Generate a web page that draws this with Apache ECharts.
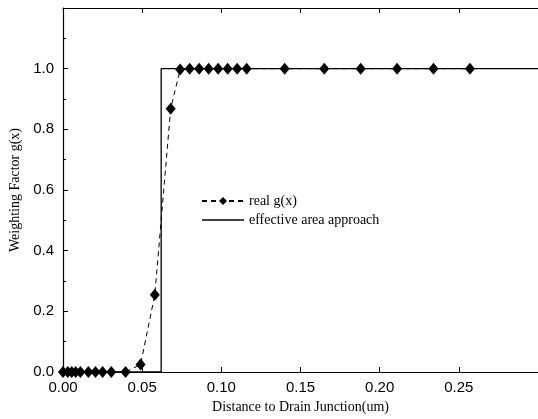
<!DOCTYPE html>
<html>
<head>
<meta charset="utf-8">
<script src="https://cdn.jsdelivr.net/npm/echarts@6/dist/echarts.min.js"></script>
<style>
  html, body { margin: 0; padding: 0; background: #fff; }
  #chart { width: 538px; height: 419px; }
</style>
</head>
<body>
<div id="chart"></div>
<script>
// real g(x) samples
const realX = [0.0, 0.003, 0.0055, 0.008, 0.011, 0.016, 0.0205, 0.025, 0.0305, 0.0395,
    0.049, 0.058, 0.068, 0.074, 0.080, 0.086, 0.092, 0.098, 0.104, 0.110, 0.116,
    0.140, 0.165, 0.188, 0.211, 0.234, 0.257];
const realY = [0, 0, 0, 0, 0, 0, 0, 0, 0, 0,
    0.025, 0.255, 0.868, 0.997, 1, 1, 1, 1, 1, 1, 1,
    1, 1, 1, 1, 1, 1];

// effective area approach (step)
const stepX = [0, 0.062, 0.062, 0.3];
const stepY = [0, 0, 1, 1];

const sans = 'Liberation Sans';
const serif = 'Liberation Serif';

const chart = echarts.init(document.getElementById('chart'));

const option = {
    animation: false,
    backgroundColor: '#fff',
    grid: {
        left: 63,
        right: 0,
        top: 8,
        bottom: 47
    },
    legend: {
        orient: 'vertical',
        left: 196,
        top: 189,
        itemWidth: 42,
        itemHeight: 10,
        itemGap: 5,
        textStyle: { fontFamily: serif, fontSize: 14, color: '#000' },
        data: [
            { name: 'real g(x)' },
            { name: 'effective area approach', icon: 'path://M0,0H40V1.3H0Z' }
        ]
    },
    xAxis: [
        {
            type: 'value',
            min: 0,
            max: 0.3,
            interval: 0.05,
            name: 'Distance to Drain Junction(um)',
            nameLocation: 'middle',
            nameGap: 26,
            nameTextStyle: { fontFamily: serif, fontSize: 14, color: '#000' },
            axisLine: { lineStyle: { color: '#000', width: 1.2 } },
            axisTick: { inside: true, length: 5, lineStyle: { color: '#000' } },
            axisLabel: {
                fontFamily: sans, fontSize: 15, color: '#000', margin: 8,
                showMaxLabel: false,
                formatter: v => v.toFixed(2)
            },
            splitLine: { show: false }
        },
        {
            type: 'value',
            position: 'top',
            min: 0,
            max: 0.3,
            interval: 0.05,
            axisLine: { lineStyle: { color: '#000', width: 1.2 } },
            axisTick: { inside: true, length: 5, lineStyle: { color: '#000' } },
            axisLabel: { show: false },
            splitLine: { show: false }
        }
    ],
    yAxis: {
        type: 'value',
        min: 0,
        max: 1.2,
        interval: 0.2,
        name: 'Weighting Factor g(x)',
        nameLocation: 'middle',
        nameGap: 38,
        nameTextStyle: { fontFamily: serif, fontSize: 14, color: '#000' },
        axisLine: { show: true, lineStyle: { color: '#000', width: 1.2 } },
        axisTick: { inside: true, length: 5, lineStyle: { color: '#000' } },
        minorTick: { show: true, splitNumber: 2, length: 3, lineStyle: { color: '#000' } },
        axisLabel: {
            fontFamily: sans, fontSize: 15, color: '#000', margin: 9,
            showMaxLabel: false,
            formatter: v => v.toFixed(1)
        },
        splitLine: { show: false }
    },
    series: [
        {
            name: 'effective area approach',
            type: 'line',
            data: stepX.map((x, i) => [x, stepY[i]]),
            showSymbol: false,
            symbol: 'none',
            lineStyle: { color: '#000', width: 1.3, type: 'solid' },
            itemStyle: { color: '#000' },
            z: 2
        },
        {
            name: 'real g(x)',
            type: 'line',
            data: realX.map((x, i) => [x, realY[i]]),
            symbol: 'diamond',
            symbolSize: [10, 12],
            lineStyle: { color: '#000', width: 1, type: [5, 4] },
            itemStyle: { color: '#000' },
            z: 3
        }
    ]
};

chart.setOption(option);
</script>
</body>
</html>
